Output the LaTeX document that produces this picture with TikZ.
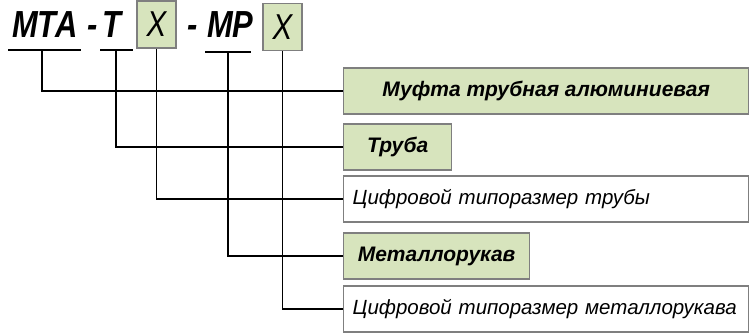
\documentclass[tikz,border=0pt]{standalone}
\usepackage{fontspec}
\setmainfont{Liberation Sans}[FakeStretch=0.82]
\newfontfamily\boxfont{Liberation Sans}
\usetikzlibrary{positioning}
\definecolor{boxgreen}{HTML}{D7E4BD}
\definecolor{boxline}{HTML}{7F7F7F}

\begin{document}
\begin{tikzpicture}[x=1pt,y=-1pt,
    code/.style={inner sep=0pt, anchor=base west, font=\fontsize{37.7}{40}\selectfont\bfseries\itshape},
    xbox/.style={draw=boxline, fill=boxgreen, line width=1.2pt, inner sep=0pt, minimum width=39pt, minimum height=47pt, font=\fontsize{36}{38}\selectfont\itshape},
    uline/.style={line width=1.3pt},
    conn/.style={line width=1.3pt},
    namebox/.style={draw=boxline, fill=boxgreen, line width=1.2pt, anchor=west, inner sep=0pt, minimum height=46pt, font=\boxfont\fontsize{21}{24}\selectfont\bfseries\itshape},
    sizebox/.style={draw=boxline, fill=white, line width=1.2pt, anchor=west, inner xsep=9pt, inner ysep=0pt, minimum height=46pt, text width=387pt, align=left, font=\boxfont\fontsize{20.5}{24}\selectfont\itshape}
  ]
    \useasboundingbox (0,0) rectangle (749,335);

	% Designation code
	\node[code] (mta) at (12,37) {МТА};
	\node[code] (dash1) at (87,37) {-};
	\node[code] (t) at (102,37) {Т};
	\node[xbox] (x1) at (156.5,24.5) {X};
	\node[code] (dash2) at (187,37) {-};
	\node[code] (mp) at (207,37) {МР};
	\node[xbox] (x2) at (282.5,27) {X};

	% Underlines
	\draw[uline] (8,50) coordinate (mtaL) -- (81,50) coordinate (mtaR);
	\draw[uline] (100,50) coordinate (tL) -- (133,50) coordinate (tR);
	\draw[uline] (205,52) coordinate (mpL) -- (251,52) coordinate (mpR);
	\coordinate (mtaU) at (42,50);
	\coordinate (tU) at (116,50);
	\coordinate (mpU) at (228,52);

	% Explanation boxes
	\node[namebox, minimum width=405pt] (muft) at (343,91) {Муфта трубная алюминиевая};
	\node[namebox, minimum width=108pt] (truba) at (343,147) {Труба};
	\node[sizebox] (razm1) at (343,199) {Цифровой типоразмер трубы};
	\node[namebox, minimum width=186pt] (metal) at (343,256) {Металлорукав};
	\node[sizebox] (razm2) at (343,309) {Цифровой типоразмер металлорукава};

	% Connectors
	\draw[conn] (mtaU) |- (muft.west);
	\draw[conn] (tU) |- (truba.west);
	\draw[conn] (x1.south) |- (razm1.west);
	\draw[conn] (mpU) |- (metal.west);
	\draw[conn] (x2.south) |- (razm2.west);

\end{tikzpicture}
\end{document}
